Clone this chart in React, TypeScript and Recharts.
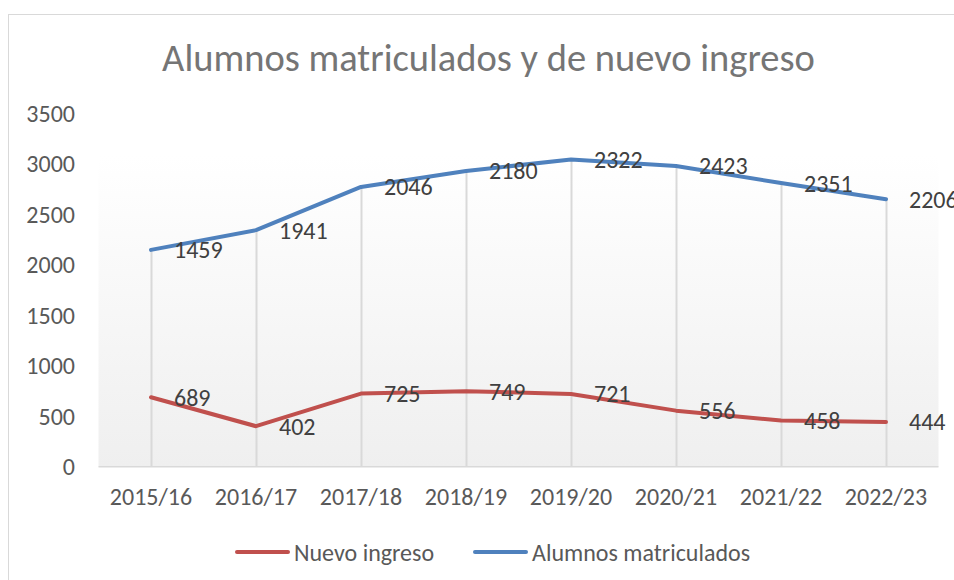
import React from 'react';
import { ComposedChart, Line, Bar, XAxis, YAxis, CartesianGrid, Legend, LabelList } from 'recharts';

const categories = ['2015/16', '2016/17', '2017/18', '2018/19', '2019/20', '2020/21', '2021/22', '2022/23'];
const nuevoIngreso = [689, 402, 725, 749, 721, 556, 458, 444];
const alumnosMatriculados = [1459, 1941, 2046, 2180, 2322, 2423, 2351, 2206];
const yTicks = [0, 500, 1000, 1500, 2000, 2500, 3000, 3500];
const seriesNames = ['Nuevo ingreso', 'Alumnos matriculados'];

// stacked line chart: the blue series is drawn on top of the red one
const data = categories.map((c, i) => ({
  cat: c,
  nuevo: nuevoIngreso[i],
  matric: alumnosMatriculados[i],
  total: nuevoIngreso[i] + alumnosMatriculados[i],
}));

const FONT = "Carlito, Calibri, 'Open Sans', sans-serif";
const RED = '#C0504D';
const BLUE = '#4F81BD';

const renderLegend = (props: any) => {
  const items = (props.payload || [])
    .filter((p: any) => p.type !== 'none' && seriesNames.includes(p.value))
    .sort((a: any, b: any) => seriesNames.indexOf(a.value) - seriesNames.indexOf(b.value));
  return (
    <div style={{ display: 'flex', alignItems: 'center', fontFamily: FONT, fontSize: 24, color: '#595959', whiteSpace: 'nowrap', height: 30 }}>
      {items.map((p: any, i: number) => (
        <div key={i} style={{ display: 'flex', alignItems: 'center', marginRight: i === 0 ? 39 : 0 }}>
          <span style={{ display: 'inline-block', width: 55, height: 4, borderRadius: 2, background: p.color, marginRight: 4 }} />
          <span>{p.value}</span>
        </div>
      ))}
    </div>
  );
};

export default function App() {
  return (
    <div style={{ position: 'fixed', left: 0, top: 0, width: 954, height: 580, overflow: 'hidden', background: '#fff' }}>
      <div
        style={{
          position: 'absolute',
          left: 8,
          top: 14,
          width: 961,
          height: 600,
          border: '1px solid #d9d9d9',
          boxSizing: 'border-box',
          fontFamily: FONT,
          background: '#fff',
        }}
      >
        <div
          style={{
            position: 'absolute',
            left: 0,
            top: 24,
            width: 959,
            textAlign: 'center',
            fontSize: 38.5,
            lineHeight: '38px',
            color: '#757575',
            whiteSpace: 'nowrap',
          }}
        >
          Alumnos matriculados y de nuevo ingreso
        </div>
        <ComposedChart
          width={959}
          height={598}
          data={data}
          margin={{ top: 98.3, right: 29.5, bottom: 76.2, left: 9.5 }}
        >
          <defs>
            <linearGradient id="plotBg" x1="0" y1="0" x2="0" y2="1">
              <stop offset="0%" stopColor="#ffffff" />
              <stop offset="12%" stopColor="#ffffff" />
              <stop offset="100%" stopColor="#efefef" />
            </linearGradient>
          </defs>
          <CartesianGrid horizontal={false} vertical={false} fill="url(#plotBg)" stroke="none" />
          <XAxis
            dataKey="cat"
            height={40}
            tickLine={false}
            tickSize={0}
            tickMargin={21}
            axisLine={{ stroke: '#d9d9d9', strokeWidth: 1.5 }}
            tick={{ fill: '#595959', fontSize: 24 }}
          />
          <YAxis
            width={80}
            domain={[0, 3500]}
            ticks={yTicks}
            interval={0}
            axisLine={false}
            tickLine={false}
            tickSize={0}
            tickMargin={23.5}
            tick={{ fill: '#595959', fontSize: 24 }}
          />
          <Bar dataKey="total" barSize={2} fill="#d9d9d9" legendType="none" isAnimationActive={false} />
          <Line
            type="linear"
            dataKey="nuevo"
            name={seriesNames[0]}
            stroke={RED}
            strokeWidth={4}
            strokeLinecap="round"
            strokeLinejoin="round"
            dot={false}
            activeDot={false}
            isAnimationActive={false}
          >
            <LabelList dataKey="nuevo" position="right" offset={23} fill="#404040" fontSize={24} />
          </Line>
          <Line
            type="linear"
            dataKey="total"
            name={seriesNames[1]}
            stroke={BLUE}
            strokeWidth={4}
            strokeLinecap="round"
            strokeLinejoin="round"
            dot={false}
            activeDot={false}
            isAnimationActive={false}
          >
            <LabelList dataKey="matric" position="right" offset={23} fill="#404040" fontSize={24} />
          </Line>
          <Legend
            content={renderLegend}
            wrapperStyle={{ position: 'absolute', left: 226, top: 522, width: 'auto', height: 30 }}
          />
        </ComposedChart>
      </div>
    </div>
  );
}
